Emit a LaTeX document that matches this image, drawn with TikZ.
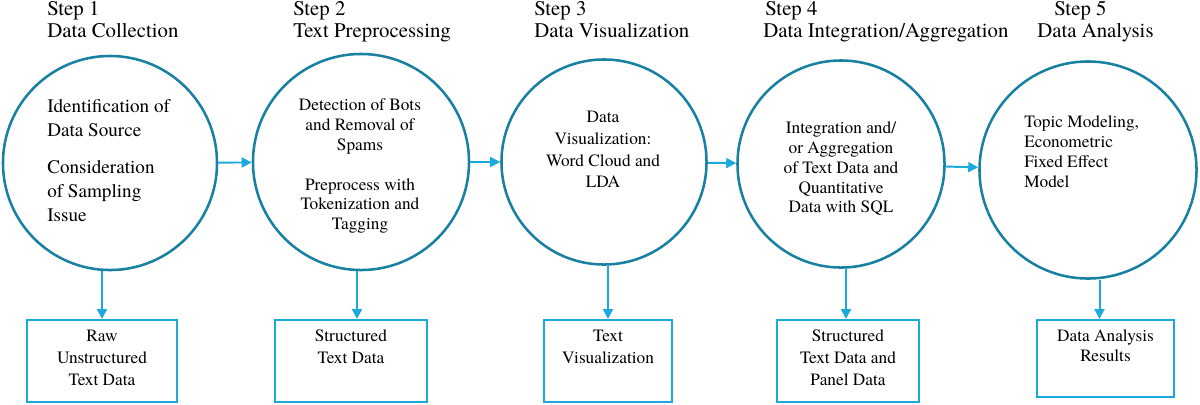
\documentclass[tikz,border=0pt]{standalone}
\usepackage{fontspec}
\setmainfont{texgyretermes-regular.otf}
\usetikzlibrary{arrows.meta,positioning}
\definecolor{ringblue}{RGB}{24,128,160}
\definecolor{flowblue}{RGB}{28,170,220}

\begin{document}
\begin{tikzpicture}[
    x=0.025cm, y=-0.025cm,
    stage/.style={circle, inner sep=0pt, line width=1.8pt, draw=ringblue},
    stagetext/.style={inner sep=0pt, font=\fontsize{12.3}{14.2}\selectfont},
    heading/.style={anchor=north west, inner sep=0pt, align=left, font=\fontsize{14.8}{15.6}\selectfont},
    outbox/.style={rectangle, inner sep=0pt, line width=1.4pt, draw=flowblue, minimum height=2.05cm},
    outtext/.style={inner sep=0pt, align=center, font=\fontsize{12.3}{15.6}\selectfont},
    arrow/.style={line width=1.4pt, draw=flowblue, -{Triangle[length=0.25cm,width=0.25cm]}}
]
    \useasboundingbox (0,0) rectangle (1200,404);

    % Headings
    \node (h1) [heading] at (47,1) {Step 1\\Data Collection};
    \node (h2) [heading] at (293,1) {Step 2\\Text Preprocessing};
    \node (h3) [heading] at (534,1) {Step 3\\Data Visualization};
    \node (h4) [heading] at (763,1) {\hspace*{0.05cm}Step 4\\Data Integration/Aggregation};
    \node (h5) [heading] at (1037,1) {\hspace*{0.425cm}Step 5\\Data Analysis};

    % Stages
    \node (collect) [stage, minimum size=5.35cm] at (110,163) {};
    \node (prep) [stage, minimum size=5.4cm] at (361,162) {};
    \node (visual) [stage, minimum size=5.125cm] at (604,162) {};
    \node (integ) [stage, minimum size=5.175cm] at (841,164) {};
    \node (analysis) [stage, minimum size=5.425cm] at (1088,170) {};

    % Stage texts
    \node (collecttxt) [stagetext, anchor=north west, align=left, font=\fontsize{13.6}{17}\selectfont] at (47,99)
        {Identification of\\Data Source\\[0.33cm]Consideration\\of Sampling\\Issue};
    \node (preptxt) [stagetext, anchor=north, align=center] at (360,98)
        {Detection of Bots\\and Removal of\\Spams\\[0.5cm]Preprocess with\\Tokenization and\\Tagging};
    \node (visualtxt) [stagetext, anchor=north, align=center, font=\fontsize{12.3}{15.4}\selectfont] at (603,111)
        {Data\\Visualization:\\Word Cloud and\\LDA};
    \node (integtxt) [stagetext, anchor=north, align=center] at (841,121)
        {Integration and/\\or Aggregation\\of Text Data and\\Quantitative\\Data with SQL};
    \node (analysistxt) [stagetext, anchor=north west, align=left] at (1024,115)
        {Topic Modeling,\\Econometric\\Fixed Effect\\Model};

    % Outputs
    \node (raw) [outbox, minimum width=3.75cm] at (102,361) {};
    \node (structured) [outbox, minimum width=3.8cm] at (351,361) {};
    \node (textvis) [outbox, minimum width=3.2cm] at (608,361) {};
    \node (panel) [outbox, minimum width=3.55cm] at (848,361) {};
    \node (results) [outbox, minimum width=3.425cm, minimum height=1.925cm] at (1105.5,358.5) {};

    \node (rawtxt) [outtext, below=0.26cm of raw.north] {Raw\\Unstructured\\Text Data};
    \node (structuredtxt) [outtext, below=0.26cm of structured.north] {Structured\\Text Data};
    \node (textvistxt) [outtext, below=0.26cm of textvis.north] {Text\\Visualization};
    \node (paneltxt) [outtext, below=0.26cm of panel.north] {Structured\\Text Data and\\Panel Data};
    \node (resultstxt) [outtext, below=0.27cm of results.north, font=\fontsize{12.3}{14.2}\selectfont] {Data Analysis\\Results};

    % Flow between stages
    \draw [arrow] (collect) -- (prep);
    \draw [arrow] (prep) -- (visual);
    \draw [arrow] (visual) -- (integ);
    \draw [arrow] (integ) -- (analysis);

    % Outputs of stages
    \draw [arrow] (raw.north |- collect.south) -- (raw.north);
    \draw [arrow] ([xshift=0.15cm]structured.north |- prep.south) -- ([xshift=0.15cm]structured.north);
    \draw [arrow] (textvis.north |- visual.south) -- (textvis.north);
    \draw [arrow] ([xshift=-0.05cm]panel.north |- integ.south) -- ([xshift=-0.05cm]panel.north);
    \draw [arrow] ([xshift=-0.15cm]results.north |- analysis.south) -- ([xshift=-0.15cm]results.north);

\end{tikzpicture}
\end{document}
